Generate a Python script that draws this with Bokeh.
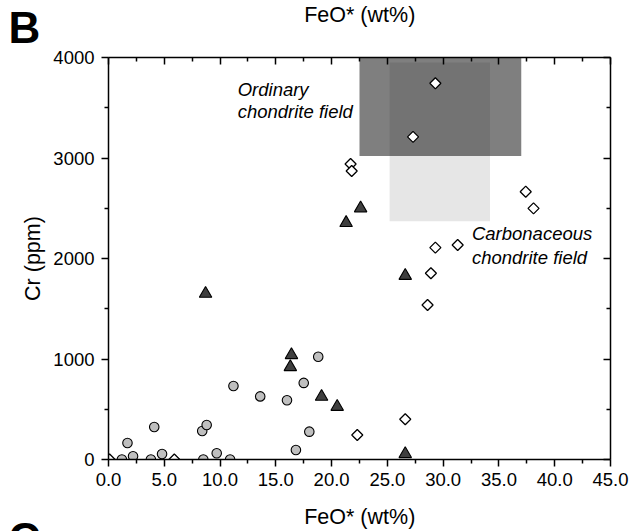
import math
from bokeh.plotting import figure
from bokeh.layouts import column
from bokeh.models import (LinearAxis, FixedTicker, NumeralTickFormatter, Range1d, Label)
from bokeh.embed import file_html
from bokeh.resources import INLINE

# ---- data ----
circle_feo = [1.2, 1.7, 2.2, 3.8, 4.1, 4.8, 8.4, 8.8, 8.5, 9.7, 10.9, 11.2, 13.6, 16.0, 16.8, 17.5, 18.0, 18.8]
circle_cr = [0, 164, 32, 0, 323, 55, 283, 343, 0, 62, 0, 731, 628, 590, 94, 762, 277, 1023]

triangle_feo = [8.7, 16.4, 16.3, 19.1, 20.5, 21.3, 22.6, 26.6, 26.6]
triangle_cr = [1650, 1040, 920, 625, 525, 2355, 2500, 1828, 55]

diamond_feo = [0.1, 5.9, 21.7, 21.8, 22.3, 26.6, 27.3, 28.6, 28.9, 29.3, 29.3, 31.3, 37.4, 38.1]
diamond_cr = [0, 0, 2940, 2870, 244, 400, 3210, 1537, 1853, 2108, 3743, 2134, 2665, 2499]

# chondrite fields: [carbonaceous, ordinary]
field_left = [25.2, 22.5]
field_right = [34.2, 37.0]
field_bottom = [2370, 3020]
field_top = [3950, 4050]

x_ticks = [0, 5, 10, 15, 20, 25, 30, 35, 40, 45]
x_minor = [2.5, 7.5, 12.5, 17.5, 22.5, 27.5, 32.5, 37.5, 42.5]
y_ticks = [0, 1000, 2000, 3000, 4000]
y_minor = [500, 1500, 2500, 3500]

x_title = "FeO* (wt%)"
y_title = "Cr (ppm)"

FONT = "Liberation Sans"
W = 631
HEAD_H, MAIN_H, FOOT_H = 46, 454, 31


def blank(height, y0, y1):
    f = figure(width=W, height=height, output_backend="svg", toolbar_location=None,
               x_range=Range1d(0, W), y_range=Range1d(y0, y1),
               min_border=0, x_axis_location=None, y_axis_location=None,
               frame_align=False)
    f.min_border_left = f.min_border_right = f.min_border_top = f.min_border_bottom = 0
    f.grid.visible = False
    f.outline_line_color = None
    f.background_fill_color = "white"
    f.border_fill_color = "white"
    return f


def lab(fig, x, y, text, size, style="normal", align="left"):
    fig.add_layout(Label(x=x, y=y, text=text, text_font=FONT, text_font_size=size,
                         text_font_style=style, text_align=align, text_baseline="alphabetic",
                         text_color="black"))


# ---- header strip (panel letter + axis title of the panel above) ----
head = blank(HEAD_H, HEAD_H, 0)
lab(head, 8, 26.7, "B", "44px", "bold")
lab(head, 359.25, 14.3, x_title, "21.5px", align="center")

# ---- main plot ----
p = figure(width=W, height=MAIN_H, output_backend="svg", toolbar_location=None,
           x_range=Range1d(0, 45), y_range=Range1d(0, 4000),
           min_border_left=108, min_border_right=21, min_border_top=11, min_border_bottom=41,
           x_axis_location=None, y_axis_location=None, frame_align=False)
p.grid.visible = False
p.outline_line_color = None
p.background_fill_color = "white"
p.border_fill_color = "white"

xt = FixedTicker(ticks=x_ticks, minor_ticks=x_minor)
yt = FixedTicker(ticks=y_ticks, minor_ticks=y_minor)


def style(ax, outside, labels, standoff=7):
    ax.axis_line_width = 1.5
    ax.axis_line_color = "black"
    ax.major_tick_line_width = 1.5
    ax.minor_tick_line_width = 1.5
    if outside:
        ax.major_tick_out, ax.major_tick_in = 7, 0
        ax.minor_tick_out, ax.minor_tick_in = 4, 0
    else:
        ax.major_tick_out, ax.major_tick_in = 0, 7
        ax.minor_tick_out, ax.minor_tick_in = 0, 4
    if labels:
        ax.major_label_text_font = FONT
        ax.major_label_text_font_size = "18.5px"
        ax.major_label_text_color = "black"
        ax.major_label_standoff = standoff
    else:
        ax.major_label_text_font_size = "0px"
        ax.major_label_standoff = 0
    ax.axis_label_text_font = FONT
    ax.axis_label_text_font_size = "21.5px"
    ax.axis_label_text_font_style = "normal"
    ax.axis_label_text_color = "black"


bottom = LinearAxis(ticker=xt, formatter=NumeralTickFormatter(format="0.0"))
style(bottom, True, True, standoff=6)
top = LinearAxis(ticker=xt)
style(top, False, False)
left = LinearAxis(ticker=yt, formatter=NumeralTickFormatter(format="0"))
style(left, True, True, standoff=7)
left.axis_label = y_title
left.axis_label_standoff = 5
right = LinearAxis(ticker=yt)
style(right, False, False)

p.add_layout(bottom, "below")
p.add_layout(top, "above")
p.add_layout(left, "left")
p.add_layout(right, "right")

# fields
p.quad(left=field_left[0:1], right=field_right[0:1], bottom=field_bottom[0:1], top=field_top[0:1],
       fill_color="#e6e6e6", line_color=None)
p.quad(left=field_left[1:2], right=field_right[1:2], bottom=field_bottom[1:2], top=field_top[1:2],
       fill_color="black", fill_alpha=0.5, line_color=None)

# points
p.scatter(circle_feo, circle_cr, marker="circle", size=9.5, fill_color="#bfbfbf",
          line_color="black", line_width=1.1)
p.scatter(triangle_feo, triangle_cr, marker="triangle", size=12.5, fill_color="#3f3f3f",
          line_color="black", line_width=1.1)
p.scatter(diamond_feo, diamond_cr, marker="square", size=7.8, angle=math.pi / 4,
          fill_color="white", line_color="black", line_width=1.3)

lab(p, 11.58, 3679, "Ordinary", "18.5px", "italic")
lab(p, 11.58, 3465, "chondrite field", "18.5px", "italic")
lab(p, 32.58, 2245, "Carbonaceous", "18.5px", "italic")
lab(p, 32.58, 2013, "chondrite field", "18.5px", "italic")

# ---- footer strip (x axis title + next panel letter) ----
foot = blank(FOOT_H, HEAD_H + MAIN_H + FOOT_H, HEAD_H + MAIN_H)
lab(foot, 359.25, 516, x_title, "21.5px", align="center")
lab(foot, 8, 537.7, "C", "44px", "bold")

layout = column(head, p, foot, spacing=0)
open("out.html", "w").write(file_html(layout, INLINE))
